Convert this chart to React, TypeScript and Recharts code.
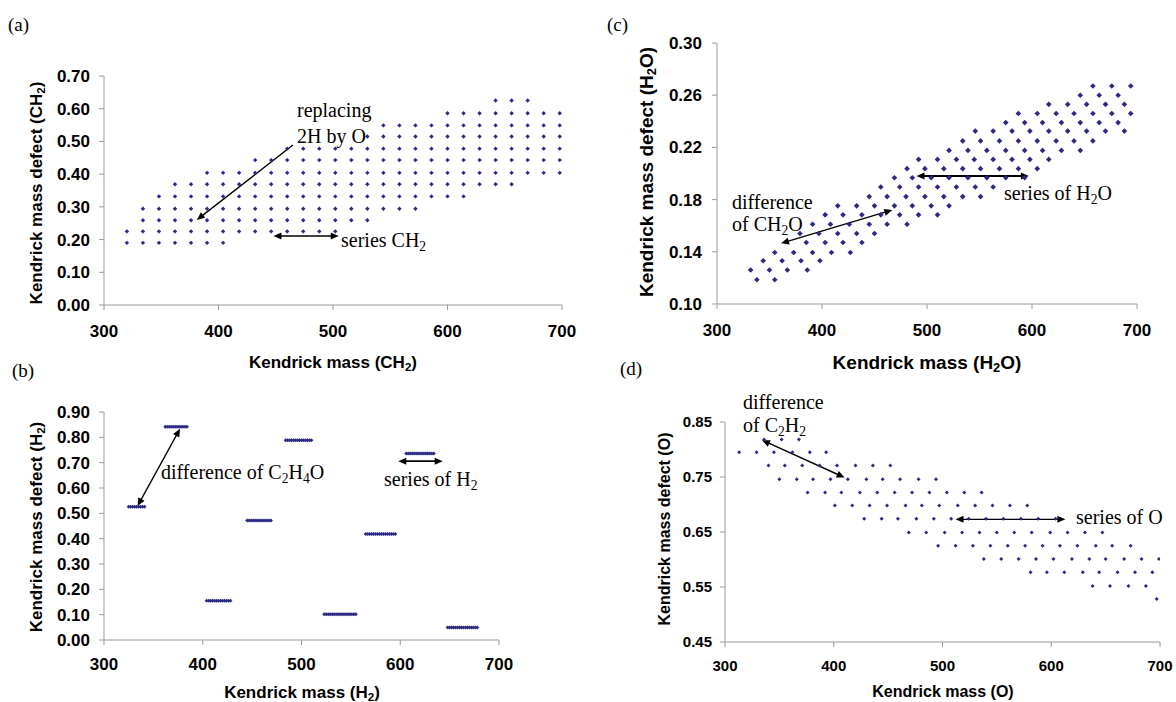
import React from 'react';
import { ScatterChart, Scatter, XAxis, YAxis, ReferenceLine } from 'recharts';

const DOT = '#2a2a86';
const AXIS = '#9a9a9a';
const SANS = '"Liberation Sans", Arial, sans-serif';
const SERIF = '"Liberation Serif", "Times New Roman", serif';

const massTicks = [300, 400, 500, 600, 700];

// (a) Kendrick mass defect, CH2 base: one row per CH2 series, columns 14 apart
const aMassColumns = [320, 334, 348, 362, 376, 390, 404, 418, 432, 446, 460, 474, 488, 502,
  516, 530, 544, 558, 572, 586, 600, 614, 628, 642, 656, 670, 684, 698];
const aRowDefect = [0.19, 0.225, 0.259, 0.294, 0.332, 0.369, 0.404, 0.443, 0.478, 0.515, 0.549, 0.586, 0.625];
const aRowFirst = [0, 0, 1, 1, 2, 3, 5, 8, 10, 15, 16, 20, 23];
const aRowLast = [6, 13, 15, 18, 21, 24, 27, 27, 27, 27, 27, 27, 25];
const aYTicks = [0, 0.1, 0.2, 0.3, 0.4, 0.5, 0.6, 0.7];

// (b) H2 base: short H2 series
const bSegDefect = [0.526, 0.842, 0.155, 0.472, 0.788, 0.102, 0.418, 0.736, 0.049];
const bSegMasses = [
  [325, 327, 329, 331, 333, 335, 337, 339, 341],
  [362, 364, 366, 368, 370, 372, 374, 376, 378, 380, 382, 384],
  [404, 406, 408, 410, 412, 414, 416, 418, 420, 422, 424, 426, 428],
  [445, 447, 449, 451, 453, 455, 457, 459, 461, 463, 465, 467, 469],
  [484, 486, 488, 490, 492, 494, 496, 498, 500, 502, 504, 506, 508, 510],
  [523, 525, 527, 529, 531, 533, 535, 537, 539, 541, 543, 545, 547, 549, 551, 553, 555],
  [565, 567, 569, 571, 573, 575, 577, 579, 581, 583, 585, 587, 589, 591, 593, 595],
  [606, 608, 610, 612, 614, 616, 618, 620, 622, 624, 626, 628, 630, 632, 634],
  [648, 650, 652, 654, 656, 658, 660, 662, 664, 666, 668, 670, 672, 674, 676, 678],
];
const bYTicks = [0, 0.1, 0.2, 0.3, 0.4, 0.5, 0.6, 0.7, 0.8, 0.9];

// (c) H2O base
const cRowDefect = [0.267, 0.26, 0.253, 0.246, 0.239, 0.2325, 0.225, 0.2177, 0.2108, 0.2037, 0.1968,
  0.1897, 0.1823, 0.1752, 0.1683, 0.1611, 0.154, 0.1471, 0.1395, 0.1331, 0.126, 0.1186];
const cRowMasses = [
  [658, 676, 694],
  [646, 664, 682],
  [616, 634, 652, 670, 688],
  [587, 605, 623, 640, 658, 676, 694],
  [575, 593, 610, 628, 646, 664, 682],
  [546, 563, 581, 598, 616, 634, 652, 670, 688],
  [534, 551, 569, 587, 605, 623, 640, 658],
  [521, 539, 557, 575, 593, 610, 628, 646],
  [492, 510, 528, 545, 563, 581, 598, 616],
  [481, 498, 516, 534, 551, 569, 587, 605],
  [469, 486, 504, 521, 539, 557, 575, 593],
  [456, 474, 492, 510, 528, 546, 563],
  [445, 462, 480, 498, 516, 534, 551],
  [415, 433, 450, 469, 486, 504, 521],
  [403, 420, 438, 456, 474, 492, 510],
  [391, 408, 426, 445, 462, 481],
  [379, 397, 415, 433, 450],
  [385, 403, 420, 438],
  [355, 373, 391, 409, 427],
  [344, 362, 380, 398],
  [332, 350, 367, 386],
  [338, 355],
];
const cYTicks = [0.1, 0.14, 0.18, 0.22, 0.26, 0.3];

// (d) O base
const dRowDefect = [0.818, 0.795, 0.771, 0.746, 0.722, 0.698, 0.674, 0.649, 0.625, 0.601, 0.577, 0.552, 0.528];
const dRowMasses = [
  [336, 352, 368],
  [313, 329, 345, 362, 378, 393],
  [340, 355, 371, 387, 403, 420, 436, 452],
  [350, 366, 381, 397, 413, 430, 445, 461, 478, 494],
  [376, 392, 407, 424, 440, 456, 472, 488, 504, 520, 536],
  [401, 417, 433, 449, 466, 481, 497, 514, 530, 546, 562, 578],
  [428, 444, 459, 476, 492, 508, 524, 540, 556, 572, 588, 604],
  [469, 485, 502, 518, 534, 550, 566, 582, 599, 615, 631, 647],
  [496, 512, 528, 544, 560, 576, 592, 608, 624, 641, 656, 673],
  [538, 554, 570, 586, 602, 619, 635, 650, 667, 683, 699],
  [581, 596, 612, 629, 644, 661, 677, 693],
  [638, 654, 671, 687],
  [697],
];
const dYTicks = [0.45, 0.55, 0.65, 0.75, 0.85];

type Arrow = { from: [number, number]; to: [number, number]; both: boolean; width: number };

const aArrows: Arrow[] = [
  { from: [465, 0.489], to: [381, 0.26], both: false, width: 1.4 },
  { from: [448, 0.211], to: [505, 0.211], both: true, width: 1.4 },
];
const bArrows: Arrow[] = [
  { from: [334, 0.529], to: [377, 0.834], both: true, width: 1.3 },
  { from: [598, 0.706], to: [643, 0.706], both: true, width: 1.8 },
];
const cArrows: Arrow[] = [
  { from: [361, 0.1465], to: [467, 0.172], both: true, width: 1.3 },
  { from: [490, 0.198], to: [597, 0.198], both: true, width: 2 },
];
const dArrows: Arrow[] = [
  { from: [410, 0.749], to: [334, 0.817], both: true, width: 1.4 },
  { from: [512, 0.673], to: [613, 0.673], both: true, width: 1.2 },
];

const aPoints = aRowDefect.flatMap((d, i) =>
  aMassColumns.slice(aRowFirst[i], aRowLast[i] + 1).map((m) => ({ x: m, y: d })));
const bPoints = bSegDefect.flatMap((d, i) => bSegMasses[i].map((m) => ({ x: m, y: d })));
const cPoints = cRowDefect.flatMap((d, i) => cRowMasses[i].map((m) => ({ x: m, y: d })));
const dPoints = dRowDefect.flatMap((d, i) => dRowMasses[i].map((m) => ({ x: m, y: d })));

const diamond = (r: number) => (p: any) => {
  const { cx, cy } = p;
  if (cx == null || cy == null) return <g />;
  return <polygon points={`${cx},${cy - r} ${cx + r},${cy} ${cx},${cy + r} ${cx - r},${cy}`} fill={DOT} />;
};

const arrowShape = (both: boolean, w: number) => (p: any) => {
  const { x1, y1, x2, y2 } = p;
  const len = Math.hypot(x2 - x1, y2 - y1) || 1;
  const ux = (x2 - x1) / len;
  const uy = (y2 - y1) / len;
  const head = (x: number, y: number, sx: number, sy: number) => {
    const L = 8, W = 3.5;
    const bx = x - sx * L, by = y - sy * L;
    return `${x},${y} ${bx - sy * W},${by + sx * W} ${bx + sy * W},${by - sx * W}`;
  };
  return (
    <g>
      <line x1={both ? x1 + ux * 5 : x1} y1={both ? y1 + uy * 5 : y1} x2={x2 - ux * 5} y2={y2 - uy * 5} stroke="#000" strokeWidth={w} />
      <polygon points={head(x2, y2, ux, uy)} fill="#000" />
      {both && <polygon points={head(x1, y1, -ux, -uy)} fill="#000" />}
    </g>
  );
};

type PanelProps = {
  box: [number, number, number, number];
  margin: { top: number; right: number; bottom: number; left: number };
  yAxisWidth: number;
  xAxisHeight: number;
  points: { x: number; y: number }[];
  yDomain: [number, number];
  yTicks: number[];
  dotR: number;
  arrows: Arrow[];
  fontSize: number;
  xTickMargin: number;
  yTickMargin: number;
};

function Panel(props: PanelProps) {
  const { box, margin, yAxisWidth, xAxisHeight, points, yDomain, yTicks, dotR, arrows, fontSize, xTickMargin, yTickMargin } = props;
  const tick = { fill: '#000', fontSize, fontWeight: 700, fontFamily: SANS };
  return (
    <div style={{ position: 'absolute', left: box[0], top: box[1] }}>
      <ScatterChart width={box[2]} height={box[3]} margin={margin}>
        <XAxis type="number" dataKey="x" domain={[300, 700]} ticks={massTicks} interval={0} allowDataOverflow
          stroke={AXIS} tick={tick} tickSize={5} tickMargin={xTickMargin} height={xAxisHeight} />
        <YAxis type="number" dataKey="y" domain={yDomain} ticks={yTicks} interval={0} allowDataOverflow
          stroke={AXIS} tick={tick} tickSize={5} tickMargin={yTickMargin} width={yAxisWidth}
          tickFormatter={(v: number) => v.toFixed(2)} />
        <Scatter data={points} shape={diamond(dotR)} isAnimationActive={false} />
        {arrows.map((a, i) => (
          <ReferenceLine key={i} segment={[{ x: a.from[0], y: a.from[1] }, { x: a.to[0], y: a.to[1] }]}
            shape={arrowShape(a.both, a.width)} />
        ))}
      </ScatterChart>
    </div>
  );
}

const Sub = ({ children }: { children: React.ReactNode }) => (
  <sub style={{ fontSize: '0.68em', verticalAlign: '-0.3em', lineHeight: 0 }}>{children}</sub>
);

type TextProps = { x: number; y: number; size: number; serif?: boolean; mode?: 'left' | 'center' | 'rot'; children: React.ReactNode };

const Txt = ({ x, y, size, serif, mode = 'left', children }: TextProps) => {
  const transform = mode === 'left' ? 'translateY(-50%)'
    : mode === 'center' ? 'translate(-50%, -50%)' : 'translate(-50%, -50%) rotate(-90deg)';
  return (
    <div style={{
      position: 'absolute', left: x, top: y, transform, whiteSpace: 'nowrap', lineHeight: 1,
      fontSize: size, fontFamily: serif ? SERIF : SANS, fontWeight: serif ? 400 : 700, color: '#000',
    }}>
      {children}
    </div>
  );
};

export default function App() {
  return (
    <div style={{ position: 'absolute', left: 0, top: 0, width: 1176, height: 702, background: '#fff', overflow: 'hidden' }}>
      <Panel box={[0, 0, 590, 380]} margin={{ top: 76, right: 28, bottom: 25, left: 0 }} yAxisWidth={104} xAxisHeight={50}
        points={aPoints} yDomain={[0, 0.7]} yTicks={aYTicks} dotR={2.2} arrows={aArrows}
        fontSize={17} xTickMargin={15} yTickMargin={9} />
      <Panel box={[0, 380, 590, 322]} margin={{ top: 32, right: 91, bottom: 22, left: 0 }} yAxisWidth={104} xAxisHeight={40}
        points={bPoints} yDomain={[0, 0.9]} yTicks={bYTicks} dotR={2} arrows={bArrows}
        fontSize={17} xTickMargin={13} yTickMargin={9} />
      <Panel box={[600, 0, 576, 380]} margin={{ top: 43, right: 39, bottom: 26, left: 0 }} yAxisWidth={117} xAxisHeight={50}
        points={cPoints} yDomain={[0.1, 0.3]} yTicks={cYTicks} dotR={2.8} arrows={cArrows}
        fontSize={17} xTickMargin={15} yTickMargin={10} />
      <Panel box={[600, 380, 576, 322]} margin={{ top: 42, right: 16, bottom: 20, left: 0 }} yAxisWidth={125} xAxisHeight={40}
        points={dPoints} yDomain={[0.45, 0.85]} yTicks={dYTicks} dotR={2} arrows={dArrows}
        fontSize={15} xTickMargin={13} yTickMargin={8} />

      <Txt x={8} y={24} size={19} serif>(a)</Txt>
      <Txt x={12} y={370} size={19} serif>(b)</Txt>
      <Txt x={607} y={24} size={19} serif>(c)</Txt>
      <Txt x={620} y={368} size={19} serif>(d)</Txt>

      <Txt x={36} y={193} size={17} mode="rot">Kendrick mass defect (CH<Sub>2</Sub>)</Txt>
      <Txt x={333} y={362} size={17} mode="center">Kendrick mass (CH<Sub>2</Sub>)</Txt>
      <Txt x={36} y={527} size={17} mode="rot">Kendrick mass defect (H<Sub>2</Sub>)</Txt>
      <Txt x={302} y={692} size={17} mode="center">Kendrick mass (H<Sub>2</Sub>)</Txt>
      <Txt x={646} y={172} size={19} mode="rot">Kendrick mass defect (H<Sub>2</Sub>O)</Txt>
      <Txt x={927} y={362} size={19} mode="center">Kendrick mass (H<Sub>2</Sub>O)</Txt>
      <Txt x={665} y={529} size={16} mode="rot">Kendrick mass defect (O)</Txt>
      <Txt x={943} y={692} size={16} mode="center">Kendrick mass (O)</Txt>

      <Txt x={297} y={110} size={20} serif>replacing</Txt>
      <Txt x={297} y={136} size={20} serif>2H by O</Txt>
      <Txt x={341} y={240} size={20} serif>series CH<Sub>2</Sub></Txt>
      <Txt x={161} y={472} size={20} serif>difference of C<Sub>2</Sub>H<Sub>4</Sub>O</Txt>
      <Txt x={384} y={479} size={20} serif>series of H<Sub>2</Sub></Txt>
      <Txt x={732} y={202} size={20} serif>difference</Txt>
      <Txt x={732} y={224} size={20} serif>of CH<Sub>2</Sub>O</Txt>
      <Txt x={1004} y={193} size={20} serif>series of H<Sub>2</Sub>O</Txt>
      <Txt x={743} y={402} size={20} serif>difference</Txt>
      <Txt x={743} y={425} size={20} serif>of C<Sub>2</Sub>H<Sub>2</Sub></Txt>
      <Txt x={1076} y={517} size={20} serif>series of O</Txt>
    </div>
  );
}
